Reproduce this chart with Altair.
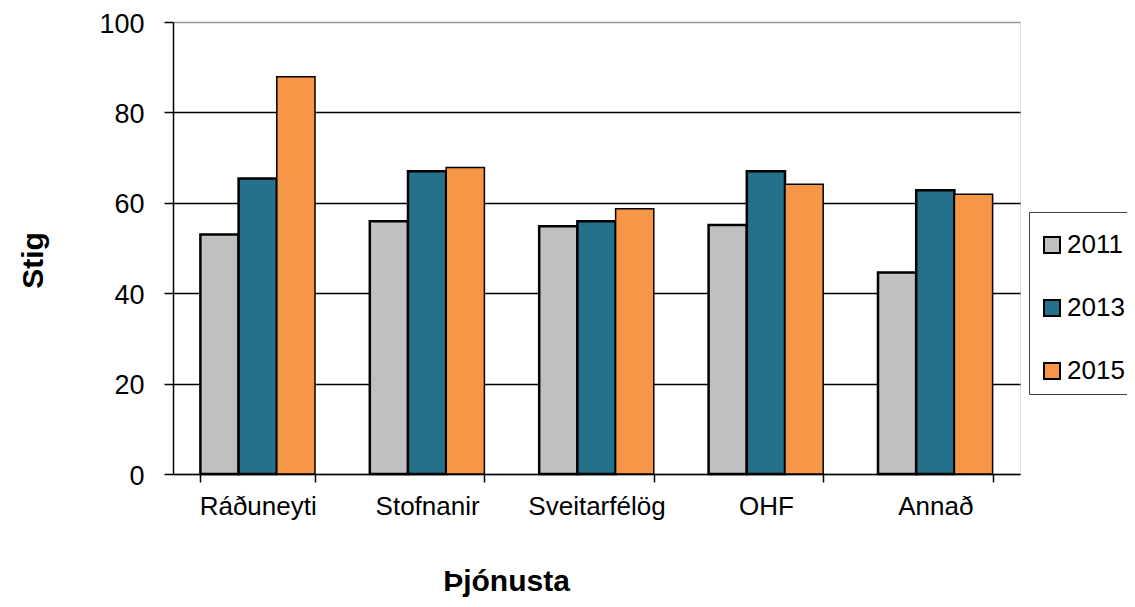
import altair as alt
import pandas as pd

categories = ["Ráðuneyti", "Stofnanir", "Sveitarfélög", "OHF", "Annað"]
years = ["2011", "2013", "2015"]
v2011 = [53.0, 55.9, 54.8, 55.1, 44.6]
v2013 = [65.4, 67.0, 55.9, 67.0, 62.8]
v2015 = [87.9, 67.8, 58.7, 64.1, 61.9]
colors = ["#C0C0C0", "#25708B", "#F79646"]
y_ticks = [0, 20, 40, 60, 80, 100]

rows = []
for yr, vals in zip(years, [v2011, v2013, v2015]):
    for c, v in zip(categories, vals):
        rows.append({"cat": c, "year": yr, "value": v})
df = pd.DataFrame(rows)

FONT = "Liberation Sans"

bars = alt.Chart(df).mark_bar(stroke="black").encode(
    x=alt.X("cat:N", sort=categories,
            scale=alt.Scale(paddingInner=0.3235, paddingOuter=0.16175),
            axis=alt.Axis(title="Þjónusta", labelAngle=0, labelFontSize=26,
                          labelFont=FONT, labelColor="black", labelPadding=11,
                          tickBand="extent", tickSize=8, tickColor="black",
                          tickWidth=1.5, domainColor="black", domainWidth=1.5,
                          titleFont=FONT, titleFontSize=30, titleFontWeight="bold",
                          titleColor="black", titleX=333, titleY=116,
                          titleAlign="center", titleBaseline="alphabetic")),
    xOffset=alt.XOffset("year:N", sort=years),
    y=alt.Y("value:Q", scale=alt.Scale(domain=[0, 100], nice=False),
            axis=alt.Axis(title="Stig", values=y_ticks, labelFontSize=27,
                          labelFont=FONT, labelColor="black", labelPadding=20,
                          labelOffset=2,
                          tickSize=9, tickColor="black", tickWidth=1.5,
                          domainColor="black", domainWidth=1.5,
                          grid=True,
                          gridColor={"condition": {"test": "datum.value === 100 || datum.value === 0", "value": "#999999"}, "value": "black"},
                          gridWidth=1.5,
                          titleFont=FONT, titleFontSize=30, titleFontWeight="bold",
                          titleColor="black", titleX=-140, titleY=238,
                          titleAlign="center", titleBaseline="middle", titleAngle=270)),
    color=alt.Color("year:N", sort=years,
                    scale=alt.Scale(domain=years, range=colors),
                    legend=alt.Legend(title=" ", titleFontSize=4, titlePadding=6,
                                      orient="none", legendX=856, legendY=190,
                                      labelFontSize=26, labelFont=FONT, labelColor="black",
                                      symbolType="square", symbolSize=256,
                                      symbolStrokeColor="black", symbolStrokeWidth=2,
                                      symbolOpacity=1, labelOffset=2,
                                      padding=10, rowPadding=37,
                                      strokeColor="#404040", fillColor="white")),
    strokeWidth=alt.condition(alt.datum.year == "2015", alt.value(1.5), alt.value(2.5)),
).properties(
    width=847,
    height=452,
    autosize=alt.AutoSizeParams(type="none"),
    padding={"left": 165, "top": 14, "right": 107, "bottom": 125},
).configure_view(
    stroke="#999999", strokeWidth=3
).configure(background="white")

chart = bars
chart.save("out.html", embed_options={"renderer": "svg", "actions": False})
